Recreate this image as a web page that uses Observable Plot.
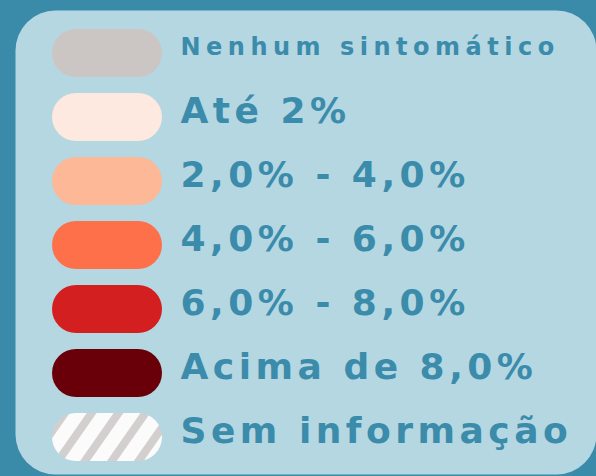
<!DOCTYPE html>
<html><head><meta charset="utf-8">
<script src="https://cdn.jsdelivr.net/npm/d3@7"></script>
<script src="https://cdn.jsdelivr.net/npm/@observablehq/plot@0.6"></script>
<style>
html,body{margin:0;padding:0;background:#3a8aaa;}
</style></head>
<body><div id="chart"></div>
<script>
const labels = ["Nenhum sintomático","Até 2%","2,0% - 4,0%","4,0% - 6,0%","6,0% - 8,0%","Acima de 8,0%","Sem informação"];
const colors = ["#cbc6c4","#fde9df","#fdb898","#fd7049","#d41f20","#690009","url(#hatch)"];

const data = labels.map((label, i) => ({label, color: colors[i]}));

const svg = Plot.plot({
  width: 596, height: 476,
  marginLeft: 15, marginTop: 10, marginRight: 0, marginBottom: 2,
  style: {background: "#3a8aaa", fontFamily: "DejaVu Sans", fontWeight: "bold"},
  x: {domain: [15, 596], axis: null},
  y: {domain: labels, range: [27, 462], paddingInner: 0.256, paddingOuter: 0, axis: null},
  color: {type: "identity"},
  marks: [
    Plot.frame({fill: "#b4d7e2", stroke: "none", rx: 40}),
    Plot.barX(data, {y: "label", x1: 52, x2: 162, fill: "color", rx: 24}),
    Plot.text(data, {y: "label", x: 180, text: "label", textAnchor: "start", fill: "#3b8bab",
      fontSize: d => d.label === labels[0] ? 24 : 36, dy: -6})
  ]
});
// hatch pattern
const defs = d3.select(svg).insert("defs", ":first-child");
const pat = defs.append("pattern").attr("id","hatch").attr("patternUnits","userSpaceOnUse")
  .attr("width", 22).attr("height", 22).attr("patternTransform","rotate(35)");
pat.append("rect").attr("width",22).attr("height",22).attr("fill","#fbfbfb");
pat.append("rect").attr("width",8).attr("height",22).attr("fill","#d2cfce");
d3.select(svg).selectAll("text").each(function(){
  const fs = +this.getAttribute("font-size") || +getComputedStyle(this).fontSize.replace("px","");
  this.style.letterSpacing = fs < 30 ? "5.5px" : "4.5px";
});
document.getElementById("chart").appendChild(svg);
</script></body></html>
